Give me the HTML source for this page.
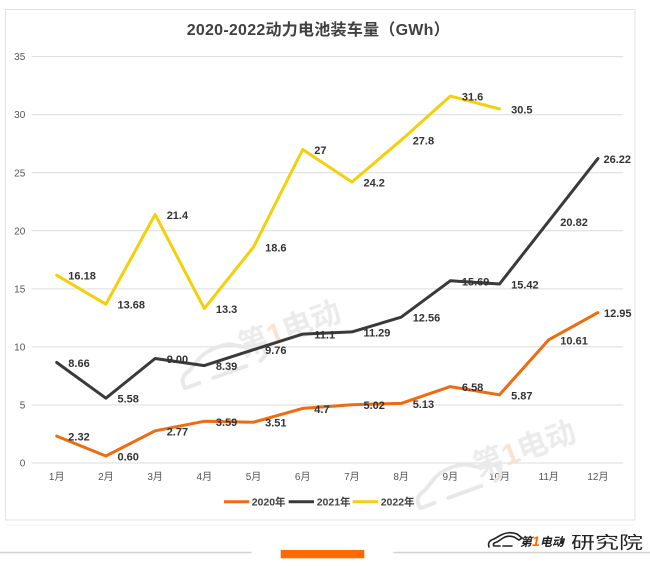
<!DOCTYPE html>
<html>
<head>
<meta charset="utf-8">
<style>
html,body{margin:0;padding:0;background:#fff;}
svg{display:block;}
text{font-family:"Liberation Sans","Noto Sans CJK SC",sans-serif;}
</style>
</head>
<body>
<svg width="650" height="567" viewBox="0 0 650 567" xmlns="http://www.w3.org/2000/svg">
<rect x="0" y="0" width="650" height="567" fill="#fff"/>
<!-- chart frame -->
<rect x="5.5" y="9.5" width="629.5" height="510.5" fill="#fff" stroke="#e2e2e2" stroke-width="1"/>
<line x1="6" y1="525" x2="634" y2="525" stroke="#f2f2f2" stroke-width="1"/>

<!-- title -->
<text x="186.7" y="35" font-size="16" font-weight="bold" fill="#404040" textLength="263" lengthAdjust="spacing">2020-2022动力电池装车量（GWh）</text>

<!-- gridlines -->
<g stroke="#dcdcdc" stroke-width="1">
<line x1="31.7" y1="463" x2="623.3" y2="463"/>
<line x1="31.7" y1="404.95" x2="623.3" y2="404.95"/>
<line x1="31.7" y1="346.9" x2="623.3" y2="346.9"/>
<line x1="31.7" y1="288.85" x2="623.3" y2="288.85"/>
<line x1="31.7" y1="230.8" x2="623.3" y2="230.8"/>
<line x1="31.7" y1="172.75" x2="623.3" y2="172.75"/>
<line x1="31.7" y1="114.7" x2="623.3" y2="114.7"/>
<line x1="31.7" y1="56.65" x2="623.3" y2="56.65"/>
</g>

<!-- y labels -->
<g font-size="10" fill="#555" text-anchor="end">
<text x="25.3" y="466.5">0</text>
<text x="25.3" y="408.5">5</text>
<text x="25.3" y="350.4">10</text>
<text x="25.3" y="292.4">15</text>
<text x="25.3" y="234.3">20</text>
<text x="25.3" y="176.3">25</text>
<text x="25.3" y="118.2">30</text>
<text x="25.3" y="60.2">35</text>
</g>

<!-- x labels -->
<g font-size="10" fill="#555" text-anchor="middle">
<text x="56.7" y="480">1月</text>
<text x="105.9" y="480">2月</text>
<text x="155.1" y="480">3月</text>
<text x="204.3" y="480">4月</text>
<text x="253.5" y="480">5月</text>
<text x="302.7" y="480">6月</text>
<text x="351.9" y="480">7月</text>
<text x="401.1" y="480">8月</text>
<text x="450.3" y="480">9月</text>
<text x="499.5" y="480">10月</text>
<text x="548.7" y="480">11月</text>
<text x="597.9" y="480">12月</text>
</g>

<!-- watermarks -->
<g opacity="0.9">
<g transform="rotate(-20 260 345)">
<path d="M175,360 Q172,348 185,345 L200,336 Q215,330 232,334 L245,342 L258,344 Q265,347 262,356 L255,360 M175,360 L190,360 M205,360 L240,360" fill="none" stroke="#e6e6e6" stroke-width="4" stroke-linecap="round"/>
<text x="240" y="350" font-size="30" font-weight="bold" fill="#e9e9e9">第<tspan fill="#f6e0cf">1</tspan>电动</text>
</g>
<g transform="rotate(-20 495 465)">
<path d="M410,480 Q407,468 420,465 L435,456 Q450,450 467,454 L480,462 L493,464 Q500,467 497,476 L490,480 M410,480 L425,480 M440,480 L475,480" fill="none" stroke="#e6e6e6" stroke-width="4" stroke-linecap="round"/>
<text x="475" y="470" font-size="30" font-weight="bold" fill="#e9e9e9">第<tspan fill="#f6e0cf">1</tspan>电动</text>
</g>
</g>

<!-- series -->
<g fill="none" stroke-width="3" stroke-linejoin="round" stroke-linecap="round">
<polyline stroke="#F4CF0A" points="56.7,275.2 105.9,304.2 155.1,214.5 204.3,308.6 253.5,247.1 302.7,149.5 351.9,182.0 401.1,140.2 450.3,96.1 499.5,108.9"/>
<polyline stroke="#3a3a3a" points="56.7,362.5 105.9,398.2 155.1,358.5 204.3,365.6 253.5,349.7 302.7,334.1 351.9,331.9 401.1,317.2 450.3,280.8 499.5,284.0 548.7,221.3 597.9,158.6"/>
<polyline stroke="#F06A10" points="56.7,436.1 105.9,456.0 155.1,430.8 204.3,421.3 253.5,422.2 302.7,408.4 351.9,404.7 401.1,403.4 450.3,386.6 499.5,394.8 548.7,339.8 597.9,312.6"/>
</g>

<!-- data labels -->
<g font-size="11" font-weight="bold" fill="#333">
<text x="68.3" y="440.6">2.32</text>
<text x="117.5" y="460.5">0.60</text>
<text x="166.7" y="435.3">2.77</text>
<text x="215.9" y="425.8">3.59</text>
<text x="265.1" y="426.7">3.51</text>
<text x="314.3" y="412.9">4.7</text>
<text x="363.5" y="409.2">5.02</text>
<text x="412.7" y="407.9">5.13</text>
<text x="461.9" y="391.1">6.58</text>
<text x="511.1" y="399.3">5.87</text>
<text x="560.3" y="344.3">10.61</text>
<text x="604" y="317.1">12.95</text>

<text x="68.3" y="367">8.66</text>
<text x="117.5" y="402.7">5.58</text>
<text x="166.7" y="363">9.00</text>
<text x="215.9" y="370.1">8.39</text>
<text x="265.1" y="354.2">9.76</text>
<text x="314.3" y="338.6">11.1</text>
<text x="363.5" y="336.4">11.29</text>
<text x="412.7" y="321.7">12.56</text>
<text x="461.9" y="285.3">15.69</text>
<text x="511.1" y="288.5">15.42</text>
<text x="560.3" y="225.8">20.82</text>
<text x="603.5" y="163.1">26.22</text>

<text x="68.3" y="279.7">16.18</text>
<text x="117.5" y="308.7">13.68</text>
<text x="166.7" y="219">21.4</text>
<text x="215.9" y="313.1">13.3</text>
<text x="265.1" y="251.6">18.6</text>
<text x="314.3" y="154">27</text>
<text x="363.5" y="186.5">24.2</text>
<text x="412.7" y="144.7">27.8</text>
<text x="461.9" y="100.6">31.6</text>
<text x="511.1" y="113.4">30.5</text>
</g>

<!-- legend -->
<g stroke-width="3">
<line x1="224" y1="501.7" x2="249.3" y2="501.7" stroke="#F06A10"/>
<line x1="288.7" y1="501.7" x2="314" y2="501.7" stroke="#3a3a3a"/>
<line x1="352.7" y1="501.7" x2="378.3" y2="501.7" stroke="#F4CF0A"/>
</g>
<g font-size="10.5" fill="#404040" font-weight="bold">
<text x="251.7" y="505.6">2020年</text>
<text x="316.7" y="505.6">2021年</text>
<text x="380.7" y="505.6">2022年</text>
</g>

<!-- bottom decoration -->
<line x1="0" y1="552.5" x2="251.7" y2="552.5" stroke="#d4d4d4" stroke-width="1.5"/>
<line x1="393.3" y1="552.5" x2="650" y2="552.5" stroke="#d4d4d4" stroke-width="1.5"/>
<rect x="280.7" y="550" width="83.6" height="8.3" fill="#FF6A00"/>

<!-- logo -->
<path d="M489,547 Q487,541 494,539 L501,535 Q509,531 517,534 L522,538 L519,540 L514,537 Q508,535 503,538 L497,542 Q492,543 494,546 L500,546 M503,546 L512,546" fill="none" stroke="#222" stroke-width="1.6" stroke-linecap="round"/>
<text x="520" y="546" font-size="12" font-weight="bold" font-style="italic" fill="#222">第<tspan fill="#FF6A00" font-size="14">1</tspan>电动</text>
<circle cx="562" cy="542" r="2" fill="#222"/>
<text x="571" y="548.5" font-size="17" fill="#222" textLength="72" lengthAdjust="spacingAndGlyphs">研究院</text>
</svg>
</body>
</html>
